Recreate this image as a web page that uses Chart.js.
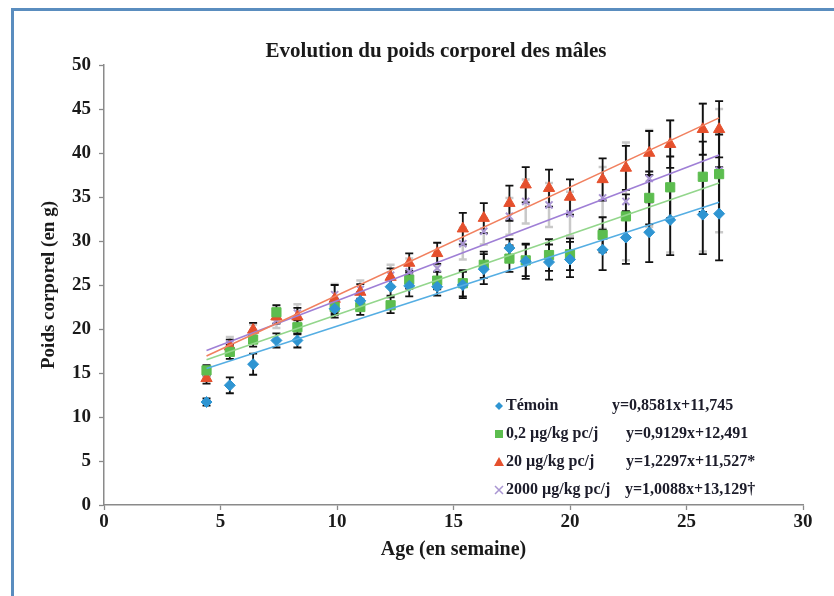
<!DOCTYPE html>
<html lang="fr">
<head>
<meta charset="utf-8">
<title>Evolution du poids corporel des mâles</title>
<script src="https://cdn.jsdelivr.net/npm/chart.js@4/dist/chart.umd.min.js"></script>
<style>
  html, body { margin: 0; padding: 0; background: #ffffff; }
  #wrap { position: relative; width: 834px; height: 596px; overflow: hidden; }
  #c { position: absolute; left: 0; top: 0; }
  #frame { position: absolute; left: 11px; top: 8px; right: -4px; bottom: -4px;
           border-left: 3px solid #5a8dbf; border-top: 3px solid #5a8dbf; pointer-events: none; }
</style>
</head>
<body>
<div id="wrap">
  <canvas id="c" width="834" height="596"></canvas>
  <div id="frame"></div>
</div>
<script>
// Age of the animals (weeks)
const weeks = [4.4, 5.4, 6.4, 7.4, 8.3, 9.9, 11.0, 12.3, 13.1, 14.3, 15.4, 16.3, 17.4, 18.1, 19.1, 20.0, 21.4, 22.4, 23.4, 24.3, 25.7, 26.4];

// Mean body weight (g) per group
const temoin   = [11.7, 13.6, 16.0, 18.7, 18.7, 22.3, 23.2, 24.8, 24.9, 24.8, 25.0, 26.8, 29.2, 27.7, 27.6, 27.9, 29.0, 30.4, 31.0, 32.4, 33.0, 33.1];
const dose02   = [15.3, 17.4, 18.8, 21.9, 20.2, 22.5, 22.5, 22.7, 25.6, 25.5, 25.2, 27.3, 28.0, 27.8, 28.4, 28.5, 30.7, 32.8, 34.9, 36.1, 37.3, 37.6];
const dose20   = [14.4, 18.0, 19.9, 21.4, 21.4, 23.4, 24.2, 25.9, 27.5, 28.6, 31.4, 32.6, 34.3, 36.4, 36.0, 35.0, 37.0, 38.3, 40.0, 41.0, 42.7, 42.7];
const dose2000 = [15.0, 18.3, 19.6, 21.0, 21.8, 23.9, 24.5, 26.1, 26.5, 26.9, 29.7, 31.1, 32.8, 34.5, 34.1, 33.1, 34.9, 34.5, 37.1, 36.2, 37.2, 38.0];

// Standard deviations (g)
const sdTemoin   = [0.4, 0.9, 1.2, 0.8, 0.8, 1.0, 1.0, 1.0, 1.2, 1.0, 1.5, 1.7, 1.0, 2.0, 2.0, 2.0, 2.3, 3.0, 3.4, 4.0, 4.5, 5.3];
const sdDose02   = [0.6, 0.8, 0.8, 0.8, 0.8, 0.9, 0.9, 0.9, 1.0, 1.0, 1.5, 1.5, 1.5, 1.8, 1.8, 1.8, 2.0, 2.5, 3.0, 3.5, 4.0, 4.5];
const sdDose20   = [0.6, 0.8, 0.8, 0.8, 1.0, 1.6, 0.9, 1.0, 1.1, 1.2, 1.8, 1.7, 2.0, 2.0, 2.1, 2.0, 2.4, 2.5, 2.5, 2.7, 2.9, 3.2];
const sdDose2000 = [0.6, 0.8, 0.9, 0.9, 1.0, 1.2, 1.0, 1.2, 1.5, 1.8, 1.8, 1.5, 2.1, 2.5, 2.5, 2.5, 3.5, 6.7, 5.5, 7.5, 8.4, 7.0];

// Legend labels and regression equations
const groupLabels = ['Témoin', '0,2 µg/kg pc/j', '20 µg/kg pc/j', '2000 µg/kg pc/j'];
const equations   = ['y=0,8581x+11,745', 'y=0,9129x+12,491', 'y=1,2297x+11,527*', 'y=1,0088x+13,129†'];
const slopes      = [0.8581, 0.9129, 1.2297, 1.0088];
const intercepts  = [11.745, 12.491, 11.527, 13.129];

// Axis ticks
const xTicks = [0, 5, 10, 15, 20, 25, 30];
const yTicks = [0, 5, 10, 15, 20, 25, 30, 35, 40, 45, 50];

const SERIF = '"Liberation Serif", "Times New Roman", serif';
const markerColors = ['#2f95d2', '#5cbd4f', '#e5502d', '#a995d2'];
const lineColors   = ['#55aee3', '#93d68c', '#f1805f', '#9f7fd6'];
const barColors    = ['#111111', '#111111', '#111111', '#c9c9c9'];
const pointStyles  = ['rectRot', 'rect', 'triangle', 'crossRot'];
const pointRadii   = [5.5, 6.5, 6.5, 5];

const means = [temoin, dose02, dose20, dose2000];
const sds   = [sdTemoin, sdDose02, sdDose20, sdDose2000];

const toXY = arr => arr.map((y, i) => ({ x: weeks[i], y: y }));

const datasets = [];
means.forEach((arr, k) => {
  datasets.push({
    type: 'scatter',
    label: groupLabels[k],
    data: toXY(arr),
    pointStyle: pointStyles[k],
    pointRadius: pointRadii[k],
    pointBackgroundColor: markerColors[k],
    pointBorderColor: markerColors[k],
    pointBorderWidth: k === 3 ? 2 : 1,
    showLine: false,
    sd: sds[k],
    barColor: barColors[k],
    order: 2
  });
});
// Linear trend lines from the regression equations
const xFirst = weeks[0], xLast = weeks[weeks.length - 1];
slopes.forEach((a, k) => {
  datasets.push({
    type: 'line',
    label: equations[k],
    data: [{ x: xFirst, y: a * xFirst + intercepts[k] }, { x: xLast, y: a * xLast + intercepts[k] }],
    borderColor: lineColors[k],
    borderWidth: 1.6,
    pointRadius: 0,
    fill: false,
    order: 1
  });
});

// Vertical error bars with caps, drawn under the markers
const errorBars = {
  id: 'errorBars',
  beforeDatasetsDraw(chart) {
    const ctx = chart.ctx, ys = chart.scales.y;
    const drawOrder = [3, 0, 1, 2];
    ctx.save();
    drawOrder.forEach(di => {
      const ds = chart.data.datasets[di];
      const meta = chart.getDatasetMeta(di);
      ctx.strokeStyle = ds.barColor;
      ctx.lineWidth = di === 3 ? 2.5 : 1.8;
      meta.data.forEach((pt, i) => {
        const v = ds.data[i].y, s = ds.sd[i];
        const yTop = ys.getPixelForValue(v + s);
        const yBot = ys.getPixelForValue(v - s);
        ctx.beginPath();
        ctx.moveTo(pt.x, yTop); ctx.lineTo(pt.x, yBot);
        ctx.moveTo(pt.x - 4, yTop); ctx.lineTo(pt.x + 4, yTop);
        ctx.moveTo(pt.x - 4, yBot); ctx.lineTo(pt.x + 4, yBot);
        ctx.stroke();
      });
    });
    ctx.restore();
  }
};

// Legend with regression equations, inside the plot area
const equationLegend = {
  id: 'equationLegend',
  afterDraw(chart) {
    const ctx = chart.ctx;
    const rowsY = [406, 434, 462, 490];
    const eqX = [612, 626, 626, 625];
    ctx.save();
    ctx.font = 'bold 16px ' + SERIF;
    ctx.textBaseline = 'middle';
    rowsY.forEach((y, k) => {
      const mx = 499;
      ctx.fillStyle = markerColors[k];
      ctx.strokeStyle = markerColors[k];
      ctx.lineWidth = 1.5;
      ctx.beginPath();
      if (k === 0) { ctx.moveTo(mx, y - 4); ctx.lineTo(mx + 4, y); ctx.lineTo(mx, y + 4); ctx.lineTo(mx - 4, y); ctx.closePath(); ctx.fill(); }
      else if (k === 1) { ctx.fillRect(mx - 4, y - 4, 8, 8); }
      else if (k === 2) { ctx.moveTo(mx, y - 5); ctx.lineTo(mx + 5, y + 4); ctx.lineTo(mx - 5, y + 4); ctx.closePath(); ctx.fill(); }
      else { ctx.moveTo(mx - 4, y - 4); ctx.lineTo(mx + 4, y + 4); ctx.moveTo(mx + 4, y - 4); ctx.lineTo(mx - 4, y + 4); ctx.stroke(); }
      ctx.fillStyle = '#1c1c2a';
      ctx.textAlign = 'left';
      ctx.fillText(groupLabels[k], 506, y);
      ctx.fillText(equations[k], eqX[k], y);
    });
    ctx.restore();
  }
};

// Chart title
const chartTitle = {
  id: 'chartTitle',
  afterDraw(chart) {
    const ctx = chart.ctx;
    ctx.save();
    ctx.font = 'bold 21px ' + SERIF;
    ctx.fillStyle = '#1a1a1a';
    ctx.textAlign = 'center';
    ctx.textBaseline = 'middle';
    ctx.fillText('Evolution du poids corporel des mâles', 436, 52);
    ctx.restore();
  }
};

new Chart(document.getElementById('c'), {
  data: { datasets: datasets },
  options: {
    responsive: false,
    animation: false,
    devicePixelRatio: 1,
    layout: { padding: { left: 0, top: 65, right: 31, bottom: 0 } },
    plugins: { legend: { display: false }, tooltip: { enabled: false }, title: { display: false } },
    scales: {
      x: {
        type: 'linear', min: 0, max: 30,
        afterBuildTicks: s => { s.ticks = xTicks.map(v => ({ value: v })); },
        afterFit: s => { s.height = 91; },
        grid: { drawOnChartArea: false, drawTicks: true, tickLength: 5, color: '#8a8a8a', tickWidth: 1.3 },
        border: { color: '#8a8a8a', width: 1.5 },
        ticks: { font: { family: SERIF, size: 19, weight: 'bold' }, color: '#1a1a1a', padding: 1, maxRotation: 0 },
        title: { display: true, text: 'Age (en semaine)', font: { family: SERIF, size: 20, weight: 'bold' }, color: '#1a1a1a', padding: { top: 0, bottom: 34 } }
      },
      y: {
        type: 'linear', min: 0, max: 50,
        afterBuildTicks: s => { s.ticks = yTicks.map(v => ({ value: v })); },
        afterFit: s => { s.width = 104; },
        grid: { drawOnChartArea: false, drawTicks: true, tickLength: 5, color: '#8a8a8a', tickWidth: 1.3 },
        border: { color: '#8a8a8a', width: 1.5 },
        ticks: { font: { family: SERIF, size: 19, weight: 'bold' }, color: '#1a1a1a', padding: 8 },
        title: { display: true, text: 'Poids corporel (en g)', font: { family: SERIF, size: 19, weight: 'bold' }, color: '#1a1a1a', padding: { top: 38, bottom: 0 } }
      }
    }
  },
  plugins: [errorBars, equationLegend, chartTitle]
});
</script>
</body>
</html>
